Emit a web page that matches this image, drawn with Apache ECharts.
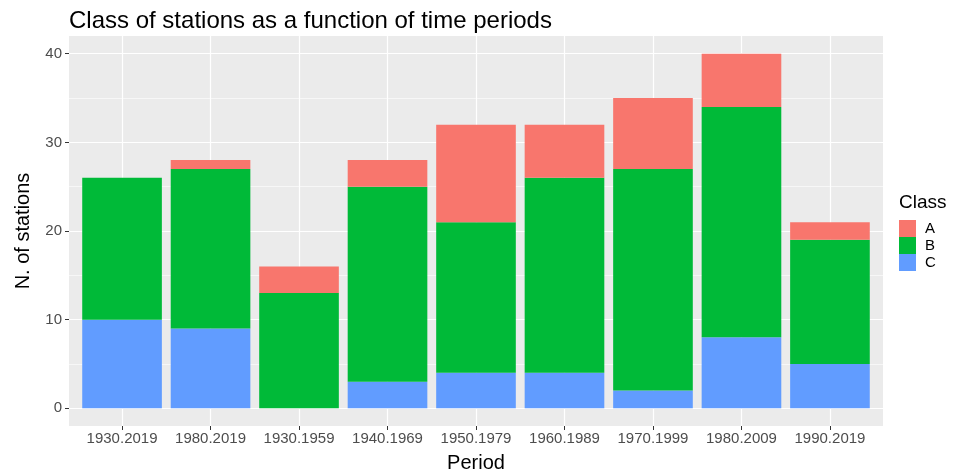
<!DOCTYPE html>
<html><head><meta charset="utf-8">
<script src="https://cdn.jsdelivr.net/npm/echarts@6/dist/echarts.min.js"></script>
<style>html,body{margin:0;padding:0;background:#fff}#c{width:961px;height:472px}</style>
</head><body><div id="c"></div>
<script>
const periods = ['1930.2019','1980.2019','1930.1959','1940.1969','1950.1979','1960.1989','1970.1999','1980.2009','1990.2019'];
const classA = [0, 1, 3, 3, 11, 6, 8, 6, 2];
const classB = [16, 18, 13, 22, 17, 22, 25, 26, 14];
const classC = [10, 9, 0, 3, 4, 4, 2, 8, 5];
const yTicks = [0, 10, 20, 30, 40];
const yMinor = [5, 15, 25, 35];
const xCenters = [0, 1, 2, 3, 4, 5, 6, 7, 8];

const FONT = 'Liberation Sans, Arial, sans-serif';
const chart = echarts.init(document.getElementById('c'), null, {renderer: 'canvas'});
const noLine = {show: false, onZero: false};
chart.setOption({
  animation: false,
  textStyle: {fontFamily: FONT},
  title: [
    {text: 'Class of stations as a function of time periods', left: 64, top: 4,
     textStyle: {fontSize: 24, fontWeight: 'normal', color: '#000', fontFamily: FONT}},
    {text: 'Class', left: 894, top: 188,
     textStyle: {fontSize: 19, fontWeight: 'normal', color: '#000', fontFamily: FONT}}
  ],
  legend: {
    orient: 'vertical', left: 894, top: 215, itemWidth: 17, itemHeight: 17, itemGap: 0,
    icon: 'rect', data: ['A', 'B', 'C'],
    textStyle: {fontSize: 15, color: '#000', fontFamily: FONT, padding: [0, 0, 0, 4]}
  },
  grid: [
    {left: 77.8, right: 86.8, top: 36, bottom: 46, show: false, outerBoundsMode: 'none'},
    {left: 69, right: 78, top: 36, bottom: 46, show: true, backgroundColor: '#ebebeb', borderWidth: 0, outerBoundsMode: 'none'}
  ],
  xAxis: [
    {type: 'category', gridIndex: 0, data: periods,
     axisLine: noLine, splitLine: {show: false},
     axisTick: {show: true, alignWithLabel: true, interval: 0, length: 4, lineStyle: {color: '#333'}},
     axisLabel: {color: '#4d4d4d', fontSize: 15, margin: 5, interval: 0, hideOverlap: false, fontFamily: FONT},
     name: 'Period', nameLocation: 'middle', nameGap: 27,
     nameTextStyle: {fontSize: 20, color: '#000', fontFamily: FONT}},
    {type: 'value', gridIndex: 1, min: -0.6, max: 8.6,
     axisLine: noLine, axisLabel: {show: false},
     axisTick: {show: false, customValues: xCenters},
     splitLine: {show: true, lineStyle: {color: '#ffffff', width: 1.2}}}
  ],
  yAxis: [
    {type: 'value', gridIndex: 0, min: -2, max: 42, show: false, axisLine: noLine, splitLine: {show: false}},
    {type: 'value', gridIndex: 1, min: -2, max: 42,
     axisLine: noLine,
     axisTick: {show: true, length: 4, customValues: yTicks, lineStyle: {color: '#333'}},
     axisLabel: {customValues: yTicks, color: '#4d4d4d', fontSize: 15, margin: 7, fontFamily: FONT},
     splitLine: {show: true, lineStyle: {color: '#ffffff', width: 1.2}},
     name: 'N. of stations', nameLocation: 'middle', nameGap: 36, nameRotate: 90,
     nameTextStyle: {fontSize: 20, color: '#000', fontFamily: FONT}},
    {type: 'value', gridIndex: 1, min: -2, max: 42, position: 'right',
     axisLine: noLine, axisLabel: {show: false},
     axisTick: {show: false, customValues: yMinor},
     splitLine: {show: true, lineStyle: {color: '#ffffff', width: 0.6}}}
  ],
  series: [
    {name: 'C', type: 'bar', stack: 'total', data: classC, xAxisIndex: 0, yAxisIndex: 0,
     barCategoryGap: '10%', itemStyle: {color: '#619CFF'}, emphasis: {disabled: true}},
    {name: 'B', type: 'bar', stack: 'total', data: classB, xAxisIndex: 0, yAxisIndex: 0,
     barCategoryGap: '10%', itemStyle: {color: '#00BA38'}, emphasis: {disabled: true}},
    {name: 'A', type: 'bar', stack: 'total', data: classA, xAxisIndex: 0, yAxisIndex: 0,
     barCategoryGap: '10%', itemStyle: {color: '#F8766D'}, emphasis: {disabled: true}}
  ]
});
</script></body></html>
